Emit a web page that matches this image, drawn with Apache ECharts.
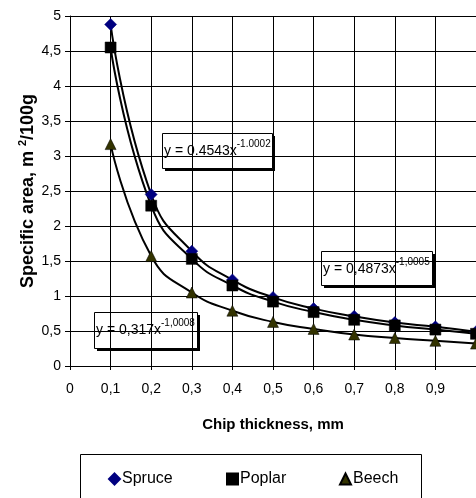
<!DOCTYPE html>
<html><head><meta charset="utf-8">
<script src="https://cdn.jsdelivr.net/npm/echarts@6/dist/echarts.min.js"></script>
<style>html,body{margin:0;padding:0;background:#fff}#c{width:476px;height:498px}</style>
</head><body><div id="c"></div>
<script>
var thickness = [0.1, 0.2, 0.3, 0.4, 0.5, 0.6, 0.7, 0.8, 0.9, 1.0];
var spruce = [4.88, 2.45, 1.64, 1.23, 0.98, 0.82, 0.71, 0.62, 0.56, 0.49];
var poplar = [4.55, 2.29, 1.53, 1.15, 0.92, 0.77, 0.66, 0.58, 0.52, 0.46];
var beech  = [3.17, 1.57, 1.05, 0.79, 0.63, 0.53, 0.45, 0.40, 0.36, 0.32];
var seriesNames = ['Spruce', 'Poplar', 'Beech'];
var equations = [
  {base: 'y = 0.4543x', exp: '-1.0002'},
  {base: 'y = 0,4873x', exp: '-1,0005'},
  {base: 'y = 0,317x', exp: '-1,0008'}
];

function fmt(v) {
  var r = Math.round(v * 10) / 10;
  return String(r).replace('.', ',');
}
function pairs(ys) { return thickness.map(function (x, i) { return [x, ys[i]]; }); }

var font = '"Liberation Sans", Arial, sans-serif';
var mctx = document.createElement('canvas').getContext('2d');
function textW(t, size) { mctx.font = size + 'px ' + font; return mctx.measureText(t).width; }

var chart = echarts.init(document.getElementById('c'), null, {renderer: 'canvas'});

function eqBox(x, y, w, h, eq) {
  var bw = textW(eq.base, 14);
  return {
    type: 'group', left: x, top: y, z: 100,
    children: [
      {type: 'rect', shape: {x: 3, y: 3, width: w, height: h}, style: {fill: '#000'}},
      {type: 'rect', shape: {x: 0.5, y: 0.5, width: w, height: h}, style: {fill: '#fff', stroke: '#000', lineWidth: 1}},
      {type: 'text', x: 2, y: 18, style: {text: eq.base, fontSize: 14, fontFamily: font, fill: '#000', verticalAlign: 'middle'}},
      {type: 'text', x: 2 + bw, y: 11, style: {text: eq.exp, fontSize: 10, fontFamily: font, fill: '#000', verticalAlign: 'middle'}}
    ]
  };
}

function mkSeries(name, ys, color, symbol, size) {
  return {
    name: name, type: 'line', data: pairs(ys), smooth: 0.5,
    symbol: symbol, symbolSize: size, showAllSymbol: true,
    lineStyle: {color: '#000', width: 2},
    itemStyle: {color: color, borderColor: color === '#333300' ? '#000' : color, borderWidth: 0.5, opacity: 1},
    emphasis: {disabled: true}, animation: false, z: 3
  };
}

var legendBase = {
  top: 466, itemWidth: 11, itemHeight: 11, itemGap: 0,
  textStyle: {fontSize: 16, fontFamily: font, color: '#000', padding: [0, 0, 0, -3]},
  selectedMode: false
};

chart.setOption({
  animation: false,
  backgroundColor: '#fff',
  grid: {left: 70, top: 16, width: 410, height: 350, containLabel: false},
  xAxis: {
    type: 'value', min: 0, max: 1, interval: 0.1,
    name: 'Chip thickness, mm', nameLocation: 'middle', nameGap: 51, nameMoveOverlap: false,
    nameTextStyle: {fontSize: 15, fontWeight: 'bold', fontFamily: font, color: '#000'},
    axisLine: {show: true, onZero: false, lineStyle: {color: '#000', width: 1}},
    axisTick: {show: true, length: 4, lineStyle: {color: '#000'}},
    axisLabel: {fontSize: 14, fontFamily: font, color: '#000', margin: 16, formatter: fmt,
      showMaxLabel: false},
    splitLine: {show: true, lineStyle: {color: '#000', width: 1}}
  },
  yAxis: {
    type: 'value', min: 0, max: 5, interval: 0.5,
    name: '{a|Specific area, m }{s|2}{a|/100g}', nameLocation: 'middle', nameGap: 33, nameRotate: 90,
    nameMoveOverlap: false,
    nameTextStyle: {
      rich: {
        a: {fontSize: 18, fontWeight: 'bold', fontFamily: font, color: '#000', lineHeight: 20, verticalAlign: 'bottom'},
        s: {fontSize: 11, fontWeight: 'bold', fontFamily: font, color: '#000', lineHeight: 20, verticalAlign: 'top'}
      }
    },
    axisLine: {show: true, lineStyle: {color: '#000', width: 1}},
    axisTick: {show: true, length: 5, lineStyle: {color: '#000'}},
    axisLabel: {fontSize: 14, fontFamily: font, color: '#000', margin: 9, formatter: fmt},
    splitLine: {show: true, lineStyle: {color: '#000', width: 1}}
  },
  legend: [
    Object.assign({}, legendBase, {left: 103, data: [{name: seriesNames[0], icon: 'diamond'}]}),
    Object.assign({}, legendBase, {left: 221, data: [{name: seriesNames[1], icon: 'rect'}]}),
    Object.assign({}, legendBase, {left: 334, data: [{name: seriesNames[2], icon: 'triangle'}]})
  ],
  graphic: [
    {type: 'rect', left: 78, top: 452, shape: {x: 0.5, y: 0.5, width: 341, height: 80}, style: {fill: 'none', stroke: '#000', lineWidth: 1}},
    eqBox(162, 133, 110, 35, equations[0]),
    eqBox(321, 251, 111, 34, equations[1]),
    eqBox(94, 312, 103, 36, equations[2])
  ],
  series: [
    mkSeries(seriesNames[0], spruce, '#000080', 'diamond', 12),
    mkSeries(seriesNames[1], poplar, '#000000', 'rect', 11),
    mkSeries(seriesNames[2], beech, '#333300', 'triangle', 11)
  ]
});
</script></body></html>
